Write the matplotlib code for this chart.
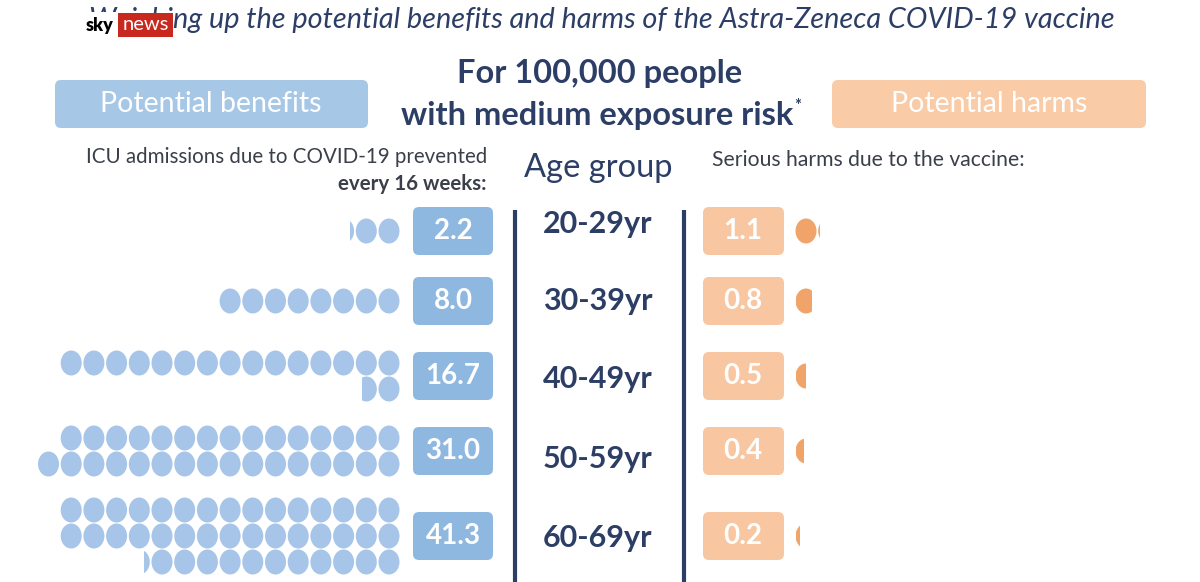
import matplotlib.pyplot as plt
from matplotlib.patches import Ellipse, FancyBboxPatch, Rectangle
import numpy as np

# data
age_groups = ["20-29yr", "30-39yr", "40-49yr", "50-59yr", "60-69yr"]
benefits = [2.2, 8.0, 16.7, 31.0, 41.3]   # ICU admissions prevented per 100,000
harms = [1.1, 0.8, 0.5, 0.4, 0.2]         # serious harms per 100,000

# dot rows per group (the original squeezes 16 dots into one row of 31.0)
row_caps = [[15], [15], [15, 15], [15, 16], [15, 15, 15]]

NAVY = "#2c3e66"
TEXT = "#3a3f4a"
BLUE_DOT = "#a7c5e8"
BLUE_BOX = "#8fb8e0"
BLUE_HEAD = "#a7c7e7"
ORANGE_DOT = "#f0a469"
ORANGE_BOX = "#f8c6a0"
ORANGE_HEAD = "#f9cba6"
FONT = ["Lato", "DejaVu Sans"]

fig = plt.figure(figsize=(12, 5.82), dpi=100)
ax = fig.add_axes([0, 0, 1, 1])
ax.set_xlim(0, 1200)
ax.set_ylim(582, 0)
ax.axis("off")

row_y = [231, 301, 376, 451, 536]
DOT_W, DOT_H, DOT_DX, ROW_DY = 21, 25, 22.7, 26


def rbox(x0, y0, x1, y1, color, pad=6):
    ax.add_patch(FancyBboxPatch((x0 + pad, y0 + pad), x1 - x0 - 2 * pad, y1 - y0 - 2 * pad,
                                boxstyle="round,pad=%d" % pad, fc=color, ec="none"))


def dot(cx, cy, color, frac=1.0, keep="right"):
    e = Ellipse((cx, cy), DOT_W, DOT_H, fc=color, ec="none")
    ax.add_patch(e)
    if frac < 1.0:
        w = DOT_W * frac
        x0 = cx + DOT_W / 2 - w if keep == "right" else cx - DOT_W / 2
        clip = Rectangle((x0, cy - DOT_H), w, 2 * DOT_H, transform=ax.transData)
        e.set_clip_path(clip)


# title + logo
ax.text(602, 20, "Weighing up the potential benefits and harms of the Astra-Zeneca COVID-19 vaccine",
        ha="center", va="center", fontsize=20.8, style="italic", color=NAVY, family=FONT)
ax.add_patch(Rectangle((84, 12), 35, 26, fc="white", ec="none", zorder=3))
ax.text(86, 26, "sky", ha="left", va="center", fontsize=13, fontweight="heavy",
        color="black", family=FONT, zorder=4)
ax.add_patch(Rectangle((118, 13), 55, 24, fc="#c8281e", ec="none", zorder=3))
ax.text(145.5, 24, "news", ha="center", va="center", fontsize=14.5, color="white",
        family=FONT, zorder=4)

# headline
ax.text(600, 74, "For 100,000 people", ha="center", va="center", fontsize=23.5,
        fontweight="bold", color=NAVY, family=FONT)
risk = ax.text(597, 115, "with medium exposure risk", ha="center", va="center", fontsize=23.5,
               fontweight="bold", color=NAVY, family=FONT)
fig.canvas.draw()
bb = risk.get_window_extent().transformed(ax.transData.inverted())
ax.text(max(bb.x0, bb.x1) + 1, 106, "*", ha="left", va="center", fontsize=12,
        fontweight="bold", color=NAVY, family=FONT)

rbox(55, 80, 368, 128, BLUE_HEAD)
ax.text(211, 104, "Potential benefits", ha="center", va="center", fontsize=20.5,
        color="white", family=FONT)
rbox(832, 80, 1146, 128, ORANGE_HEAD)
ax.text(989, 104, "Potential harms", ha="center", va="center", fontsize=20.5,
        color="white", family=FONT)

ax.text(487, 157, "ICU admissions due to COVID-19 prevented", ha="right", va="center",
        fontsize=14.8, color=TEXT, family=FONT)
ax.text(487, 184, "every 16 weeks:", ha="right", va="center", fontsize=14.8,
        fontweight="bold", color=TEXT, family=FONT)
ax.text(598, 168, "Age group", ha="center", va="center", fontsize=23.5, color=NAVY, family=FONT)
ax.text(712, 160, "Serious harms due to the vaccine:", ha="left", va="center",
        fontsize=15.2, color=TEXT, family=FONT)

ax.plot([515, 515], [210, 582], color=NAVY, lw=3, solid_capstyle="butt")
ax.plot([684, 684], [210, 582], color=NAVY, lw=3, solid_capstyle="butt")

label_y = [224, 301, 379, 459, 538]
for i, (age, b, h) in enumerate(zip(age_groups, benefits, harms)):
    cy = row_y[i]
    ax.text(598, label_y[i], age, ha="center", va="center", fontsize=22,
            fontweight="bold", color=NAVY, family=FONT)

    # benefit box + dots (filled right to left, row by row)
    rbox(413, cy - 24, 493, cy + 24, BLUE_BOX)
    ax.text(453, cy, "%.1f" % b, ha="center", va="center", fontsize=20,
            fontweight="bold", color="white", family=FONT)
    caps = row_caps[i]
    n_rows = len(caps)
    remaining = b
    for r, cap in enumerate(caps):
        ry = cy + (r - (n_rows - 1) / 2) * ROW_DY
        k = 0
        while remaining > 1e-9 and k < cap:
            frac = min(1.0, remaining)
            dot(389 - k * DOT_DX, ry, BLUE_DOT, frac, keep="right")
            remaining -= frac
            k += 1

    # harm box + dots (filled left to right)
    rbox(703, cy - 24, 784, cy + 24, ORANGE_BOX)
    ax.text(743, cy, "%.1f" % h, ha="center", va="center", fontsize=20,
            fontweight="bold", color="white", family=FONT)
    remaining = h
    k = 0
    while remaining > 1e-9:
        frac = min(1.0, remaining)
        dot(806 + k * DOT_DX, cy, ORANGE_DOT, frac, keep="left")
        remaining -= frac
        k += 1

fig.savefig("out.png", dpi=100, facecolor="white")
